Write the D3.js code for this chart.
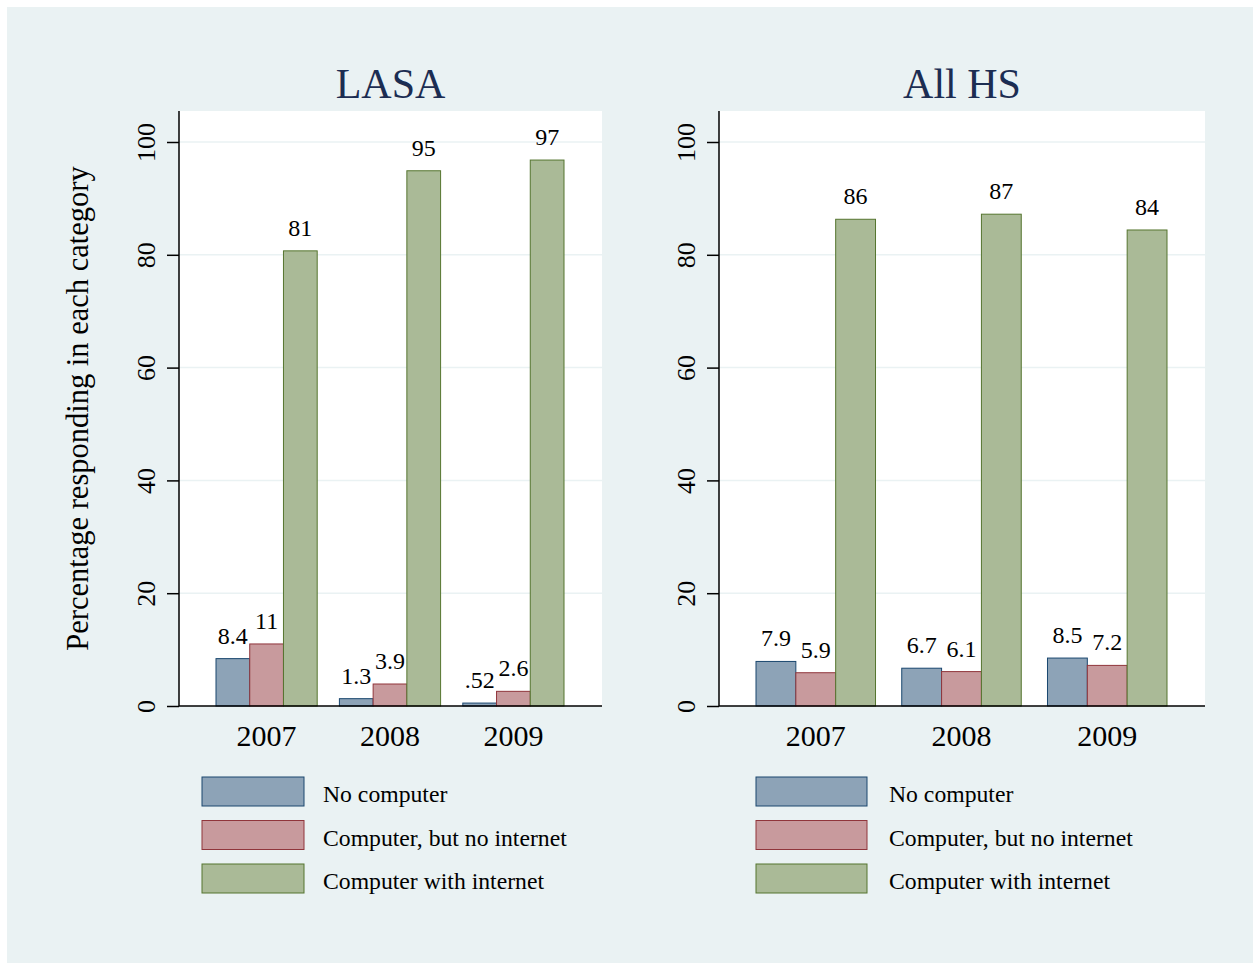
<!DOCTYPE html>
<html>
<head>
<meta charset="utf-8">
<script src="https://cdn.jsdelivr.net/npm/d3@7"></script>
<style>
  html, body { margin: 0; padding: 0; background: #fff; }
  svg { display: block; font-family: "Liberation Serif", "Times New Roman", serif; }
</style>
</head>
<body>
<div id="chart"></div>
<script>
'use strict';

// Data
const years = ["2007", "2008", "2009"];
const seriesNames = ["No computer", "Computer, but no internet", "Computer with internet"];
const panelTitles = ["LASA", "All HS"];
const yTicks = [0, 20, 40, 60, 80, 100];

const lasaNoComputer = [8.4, 1.3, 0.52];
const lasaNoInternet = [11.0, 3.9, 2.6];
const lasaInternet = [80.7, 94.9, 96.8];

const allNoComputer = [7.9, 6.7, 8.5];
const allNoInternet = [5.9, 6.1, 7.2];
const allInternet = [86.3, 87.2, 84.4];

const yTitle = "Percentage responding in each category";

// Styles
const fills = ["#8da3b7", "#c89a9d", "#aaba97"];
const strokes = ["#1a476f", "#90353b", "#55752f"];
const bgColor = "#eaf2f3";
const titleColor = "#1c2d52";

const W = 1253, H = 963;
const plotTop = 111, plotBottom = 706;

// Panel layout (positions only)
const panels = [
    { x0: 179, x1: 602, swatchX: 202, swatchW: 102, textX: 323, showYTitle: true,
      values: [lasaNoComputer, lasaNoInternet, lasaInternet] },
    { x0: 719, x1: 1205, swatchX: 756, swatchW: 111, textX: 889, showYTitle: false,
      values: [allNoComputer, allNoInternet, allInternet] }
];

// Stata-like label format: 2 significant digits, no leading zero
const fmt = v => d3.format(".2r")(v).replace(/^0\./, ".");

const svg = d3.select("#chart").append("svg")
    .attr("width", W)
    .attr("height", H);

svg.append("rect")
    .attr("x", 7).attr("y", 7)
    .attr("width", W - 7).attr("height", H - 7)
    .attr("fill", bgColor);

const y = d3.scaleLinear()
    .domain([0, 100])
    .range([plotBottom, 142]);

panels.forEach((p, pi) => {
    const g = svg.append("g").classed("panel", true);

    // Plot region
    g.append("rect")
        .attr("x", p.x0).attr("y", plotTop)
        .attr("width", p.x1 - p.x0).attr("height", plotBottom - plotTop)
        .attr("fill", "#fff");

    // Gridlines
    g.append("g").classed("grid", true)
        .selectAll("line")
        .data(yTicks.filter(t => t > 0))
        .join("line")
        .attr("x1", p.x0).attr("x2", p.x1)
        .attr("y1", d => y(d)).attr("y2", d => y(d))
        .attr("stroke", bgColor)
        .attr("stroke-width", 1.5);

    // Scales
    const x = d3.scaleBand()
        .domain(years)
        .range([p.x0 + 37, p.x1 - 38])
        .paddingInner(0.18)
        .paddingOuter(0);

    const xs = d3.scaleBand()
        .domain(d3.range(seriesNames.length))
        .range([0, x.bandwidth()]);

    const rows = [];
    years.forEach((yr, i) => {
        p.values.forEach((arr, s) => rows.push({ year: yr, s, v: arr[i] }));
    });

    // Bars
    g.append("g").classed("bars", true)
        .selectAll("rect")
        .data(rows)
        .join("rect")
        .attr("x", d => x(d.year) + xs(d.s))
        .attr("y", d => y(d.v))
        .attr("width", xs.bandwidth())
        .attr("height", d => y(0) - y(d.v))
        .attr("fill", d => fills[d.s])
        .attr("stroke", d => strokes[d.s])
        .attr("stroke-width", 1);

    // Value labels
    g.append("g").classed("labels", true)
        .selectAll("text")
        .data(rows)
        .join("text")
        .attr("x", d => x(d.year) + xs(d.s) + xs.bandwidth() / 2)
        .attr("y", d => y(d.v) - 15)
        .attr("text-anchor", "middle")
        .attr("font-size", 24)
        .attr("fill", "#000")
        .text(d => fmt(d.v));

    // Y axis
    const yAxis = g.append("g")
        .attr("transform", `translate(${p.x0},0)`)
        .call(d3.axisLeft(y).tickValues(yTicks).tickSize(12).tickFormat(d3.format("d")));
    yAxis.select(".domain").remove();
    yAxis.selectAll(".tick line").attr("stroke", "#000").attr("stroke-width", 1.5);
    yAxis.selectAll(".tick text")
        .attr("transform", "rotate(-90)")
        .attr("x", 0).attr("y", -24).attr("dy", 0)
        .attr("text-anchor", "middle")
        .attr("font-size", 26)
        .attr("font-family", "Liberation Serif, Times New Roman, serif")
        .attr("fill", "#000");
    g.append("line")
        .attr("x1", p.x0).attr("x2", p.x0)
        .attr("y1", plotTop).attr("y2", plotBottom)
        .attr("stroke", "#000").attr("stroke-width", 1.5);

    // X axis
    const xAxis = g.append("g")
        .attr("transform", `translate(0,${plotBottom})`)
        .call(d3.axisBottom(x).tickSize(0).tickPadding(0));
    xAxis.select(".domain").remove();
    xAxis.selectAll(".tick text")
        .attr("y", 40).attr("dy", 0)
        .attr("font-size", 30)
        .attr("font-family", "Liberation Serif, Times New Roman, serif")
        .attr("fill", "#000");
    g.append("line")
        .attr("x1", p.x0).attr("x2", p.x1)
        .attr("y1", plotBottom).attr("y2", plotBottom)
        .attr("stroke", "#000").attr("stroke-width", 1.5);

    // Title
    g.append("text")
        .attr("x", (p.x0 + p.x1) / 2)
        .attr("y", 98)
        .attr("text-anchor", "middle")
        .attr("font-size", 42)
        .attr("fill", titleColor)
        .text(panelTitles[pi]);

    // Y title
    if (p.showYTitle) {
        g.append("text")
            .attr("transform", `translate(88,${(plotTop + plotBottom) / 2}) rotate(-90)`)
            .attr("text-anchor", "middle")
            .attr("font-size", 30.5)
            .attr("fill", "#000")
            .text(yTitle);
    }

    // Legend
    const legend = g.append("g").classed("legend", true);
    seriesNames.forEach((name, s) => {
        const ry = 777 + s * 43.5;
        legend.append("rect")
            .attr("x", p.swatchX).attr("y", ry)
            .attr("width", p.swatchW).attr("height", 29)
            .attr("fill", fills[s])
            .attr("stroke", strokes[s])
            .attr("stroke-width", 1);
        legend.append("text")
            .attr("x", p.textX).attr("y", ry + 25)
            .attr("font-size", 23.7)
            .attr("fill", "#000")
            .text(name);
    });
});
</script>
</body>
</html>
